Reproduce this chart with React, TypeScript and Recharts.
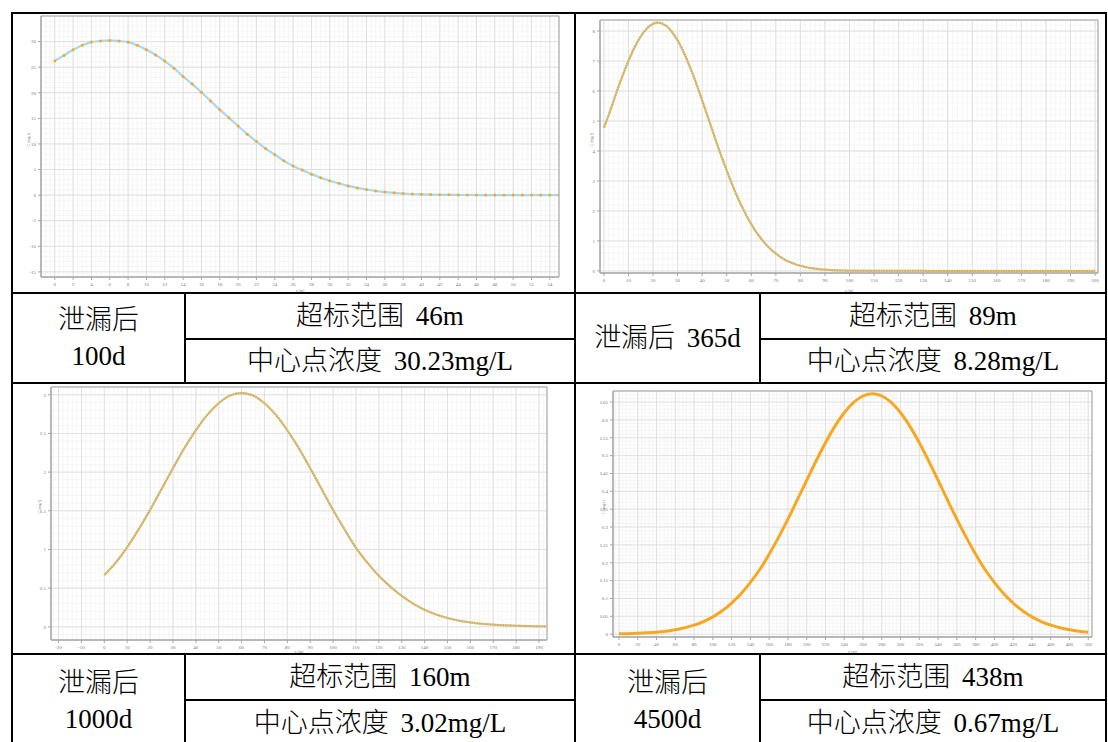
import React from 'react';
import { LineChart, Line, XAxis, YAxis, CartesianGrid, ReferenceArea } from 'recharts';

// 100d
const x100 = [0, 1, 2, 3, 4, 5, 6, 7, 8, 9, 10, 11, 12, 13, 14, 15, 16, 17, 18, 19, 20, 21, 22, 23, 24, 25, 26, 27, 28, 29, 30, 31, 32, 33, 34, 35, 36, 37, 38, 39, 40, 41, 42, 43, 44, 45, 46, 47, 48, 49, 50, 51, 52, 53, 54, 55];
const c100 = [26.2, 27.3, 28.4, 29.3, 29.9, 30.1, 30.23, 30.1, 29.9, 29.3, 28.4, 27.4, 26.2, 24.8, 23.2, 21.7, 20.1, 18.4, 16.7, 15.1, 13.5, 11.9, 10.5, 9.1, 7.9, 6.7, 5.7, 4.9, 4.1, 3.4, 2.8, 2.3, 1.8, 1.4, 1.1, 0.8, 0.6, 0.45, 0.32, 0.22, 0.15, 0.1, 0.07, 0.05, 0.03, 0.02, 0.013, 0.008, 0.005, 0.003, 0.002, 0.001, 0.001, 0, 0, 0];
const xTicks100 = [0, 2, 4, 6, 8, 10, 12, 14, 16, 18, 20, 22, 24, 26, 28, 30, 32, 34, 36, 38, 40, 42, 44, 46, 48, 50, 52, 54];
const yTicks100 = [-15, -10, -5, 0, 5, 10, 15, 20, 25, 30];

// 365d
const x365 = [0, 2, 4, 6, 8, 10, 12, 14, 16, 18, 20, 22, 24, 26, 28, 30, 32, 34, 36, 38, 40, 42, 44, 46, 48, 50, 52, 54, 56, 58, 60, 62, 64, 66, 68, 70, 72, 74, 76, 78, 80, 82, 84, 86, 88, 90, 92, 94, 96, 98, 100, 110, 120, 130, 140, 150, 160, 170, 180, 190, 200];
const c365 = [4.78, 5.21, 5.69, 6.16, 6.6, 7.01, 7.38, 7.69, 7.94, 8.13, 8.24, 8.28, 8.24, 8.13, 7.94, 7.69, 7.38, 7.01, 6.6, 6.16, 5.69, 5.21, 4.73, 4.25, 3.79, 3.35, 2.93, 2.53, 2.18, 1.85, 1.56, 1.3, 1.08, 0.88, 0.72, 0.58, 0.46, 0.36, 0.285, 0.22, 0.17, 0.13, 0.097, 0.073, 0.054, 0.04, 0.03, 0.02, 0.015, 0.01, 0.007, 0.004, 0.002, 0.001, 0, 0, 0, 0, 0, 0, 0];
const xTicks365 = [0, 10, 20, 30, 40, 50, 60, 70, 80, 90, 100, 110, 120, 130, 140, 150, 160, 170, 180, 190, 200];
const yTicks365 = [0, 1, 2, 3, 4, 5, 6, 7, 8];

// 1000d
const x1000 = [0, 5, 10, 15, 20, 25, 30, 35, 40, 45, 50, 55, 60, 65, 70, 75, 80, 85, 90, 95, 100, 105, 110, 115, 120, 125, 130, 135, 140, 145, 150, 155, 160, 165, 170, 175, 180, 185, 190, 193];
const c1000 = [0.67, 0.83, 1.03, 1.26, 1.51, 1.78, 2.05, 2.31, 2.54, 2.74, 2.89, 2.99, 3.02, 2.99, 2.89, 2.74, 2.54, 2.31, 2.05, 1.78, 1.51, 1.26, 1.02, 0.83, 0.66, 0.52, 0.4, 0.3, 0.22, 0.16, 0.115, 0.08, 0.057, 0.04, 0.028, 0.02, 0.014, 0.01, 0.007, 0.006];
const xTicks1000 = [-20, -10, 0, 10, 20, 30, 40, 50, 60, 70, 80, 90, 100, 110, 120, 130, 140, 150, 160, 170, 180, 190];
const yTicks1000 = [0, 0.5, 1, 1.5, 2, 2.5, 3];

// 4500d
const x4500 = [0, 10, 20, 30, 40, 50, 60, 70, 80, 90, 100, 110, 120, 130, 140, 150, 160, 170, 180, 190, 200, 210, 220, 230, 240, 250, 260, 270, 280, 290, 300, 310, 320, 330, 340, 350, 360, 370, 380, 390, 400, 410, 420, 430, 440, 450, 460, 470, 480, 490, 500];
const c4500 = [0.0009, 0.0014, 0.0023, 0.0036, 0.0055, 0.0082, 0.0122, 0.0177, 0.0252, 0.0353, 0.0485, 0.0655, 0.087, 0.113, 0.145, 0.181, 0.224, 0.271, 0.322, 0.376, 0.431, 0.485, 0.536, 0.582, 0.62, 0.649, 0.667, 0.673, 0.667, 0.649, 0.62, 0.582, 0.536, 0.485, 0.431, 0.376, 0.322, 0.271, 0.224, 0.181, 0.145, 0.113, 0.087, 0.0655, 0.0485, 0.0353, 0.0252, 0.0177, 0.0122, 0.0082, 0.0055];
const xTicks4500 = [0, 20, 40, 60, 80, 100, 120, 140, 160, 180, 200, 220, 240, 260, 280, 300, 320, 340, 360, 380, 400, 420, 440, 460, 480, 500];
const yTicks4500 = [0, 0.05, 0.1, 0.15, 0.2, 0.25, 0.3, 0.35, 0.4, 0.45, 0.5, 0.55, 0.6, 0.65];

const ORANGE = '#f7a823';
const BLUE = '#a9d8ec';
const GRID = '#dadada';
const MINOR = '#f0f0f0';
const FRAME = '#a6a6a6';
const TEXT = '#777';

function steps(from: number, to: number, step: number) {
  const out: number[] = [];
  for (let v = Math.ceil(from / step) * step; v <= to + 1e-9; v += step) {
    out.push(Math.round(v * 1e6) / 1e6);
  }
  return out;
}

type PlotProps = {
  xs: number[];
  ys: number[];
  xDomain: [number, number];
  yDomain: [number, number];
  xTicks: number[];
  yTicks: number[];
  xMinor: number;
  yMinor: number;
  box: { left: number; top: number; width: number; height: number };
  margin: { top: number; right: number; bottom: number; left: number };
  yWidth: number;
  xHeight: number;
  variant: 'dots' | 'dense' | 'solid';
};

function Plot({ xs, ys, xDomain, yDomain, xTicks, yTicks, xMinor, yMinor, box, margin, yWidth, xHeight, variant }: PlotProps) {
  const data = xs.map((x, i) => ({ x, c: ys[i] }));
  const tick = { fontSize: 5, fill: TEXT };
  return (
    <div style={{ position: 'absolute', left: box.left, top: box.top, background: '#fff' }}>
      <LineChart width={box.width} height={box.height} data={data} margin={margin}>
        <XAxis xAxisId="m" type="number" dataKey="x" domain={xDomain} allowDataOverflow ticks={steps(xDomain[0], xDomain[1], xMinor)} interval={0} height={0} tickSize={2} tickFormatter={() => ''} axisLine={false} tickLine={{ stroke: FRAME }} />
        <YAxis yAxisId="m" type="number" domain={yDomain} allowDataOverflow ticks={steps(yDomain[0], yDomain[1], yMinor)} interval={0} width={0} tickSize={2} tickFormatter={() => ''} axisLine={false} tickLine={{ stroke: FRAME }} />
        <CartesianGrid xAxisId="m" yAxisId="m" stroke={MINOR} strokeWidth={0.6} />
        <CartesianGrid stroke={GRID} strokeWidth={0.8} />
        <XAxis type="number" dataKey="x" domain={xDomain} allowDataOverflow ticks={xTicks} interval={0} height={xHeight} tickSize={3} tick={tick} axisLine={{ stroke: FRAME }} tickLine={{ stroke: FRAME }}
          label={{ value: 'x (m)', position: 'insideBottom', offset: 0, fontSize: 4, fill: TEXT }} />
        <YAxis type="number" domain={yDomain} allowDataOverflow ticks={yTicks} interval={0} width={yWidth} tickSize={3} tick={tick} axisLine={{ stroke: FRAME }} tickLine={{ stroke: FRAME }}
          label={{ value: 'C (mg/l)', angle: -90, position: 'insideLeft', offset: 2, fontSize: 4, fill: TEXT }} />
        <ReferenceArea x1={xDomain[0]} x2={xDomain[1]} y1={yDomain[0]} y2={yDomain[1]} fill="none" stroke={FRAME} strokeWidth={1} ifOverflow="visible" />
        {variant !== 'solid' && (
          <Line type="monotone" dataKey="c" stroke={BLUE} strokeWidth={2.2} dot={false} isAnimationActive={false} />
        )}
        {variant === 'dots' && (
          <Line type="monotone" dataKey="c" stroke="none" dot={{ r: 1.5, fill: ORANGE, stroke: 'none' }} isAnimationActive={false} />
        )}
        {variant === 'dense' && (
          <Line type="monotone" dataKey="c" stroke={ORANGE} strokeWidth={2} strokeDasharray="1.8 0.8" dot={false} isAnimationActive={false} />
        )}
        {variant === 'solid' && (
          <Line type="monotone" dataKey="c" stroke={ORANGE} strokeWidth={3} dot={false} isAnimationActive={false} />
        )}
      </LineChart>
    </div>
  );
}

function HLine({ x1, x2, y }: { x1: number; x2: number; y: number }) {
  return <div style={{ position: 'absolute', left: x1, top: y, width: x2 - x1, height: 2, background: '#000' }} />;
}

function VLine({ x, y1, y2 }: { x: number; y1: number; y2: number }) {
  return <div style={{ position: 'absolute', left: x, top: y1, width: 2, height: y2 - y1, background: '#000' }} />;
}

function Cell({ x1, x2, y1, y2, lines }: { x1: number; x2: number; y1: number; y2: number; lines: string[] }) {
  return (
    <div style={{ position: 'absolute', left: x1, top: y1, width: x2 - x1, height: y2 - y1, display: 'flex', flexDirection: 'column', alignItems: 'center', justifyContent: 'center', fontSize: 27, fontWeight: 300, lineHeight: '36px', wordSpacing: 5, color: '#000', whiteSpace: 'pre' }}>
      {lines.map((l) => <div key={l}>{l}</div>)}
    </div>
  );
}

export default function App() {
  return (
    <div style={{ position: 'absolute', left: 0, top: 0, width: 1108, height: 742, overflow: 'hidden', background: '#fff', fontFamily: "'Liberation Serif', 'Noto Sans CJK SC', serif" }}>
      {/* table rules */}
      <HLine x1={11} x2={1107} y={12} />
      <HLine x1={11} x2={1107} y={292} />
      <HLine x1={185} x2={575} y={338} />
      <HLine x1={760} x2={1107} y={338} />
      <HLine x1={11} x2={1107} y={382} />
      <HLine x1={11} x2={1107} y={653} />
      <HLine x1={185} x2={575} y={699} />
      <HLine x1={760} x2={1107} y={699} />
      <VLine x={11} y1={12} y2={742} />
      <VLine x={574} y1={12} y2={742} />
      <VLine x={1105} y1={12} y2={742} />
      <VLine x={184} y1={292} y2={383} />
      <VLine x={759} y1={292} y2={383} />
      <VLine x={184} y1={653} y2={742} />
      <VLine x={759} y1={653} y2={742} />

      <Plot xs={x100} ys={c100} xDomain={[-1.5, 55]} yDomain={[-16, 35]} xTicks={xTicks100} yTicks={yTicks100} xMinor={0.5} yMinor={1}
        box={{ left: 25, top: 14, width: 549, height: 278 }} margin={{ top: 2, right: 15, bottom: 0, left: 2 }} yWidth={14} xHeight={15} variant="dots" />
      <Plot xs={x365} ys={c365} xDomain={[-1.6, 201.2]} yDomain={[-0.07, 8.37]} xTicks={xTicks365} yTicks={yTicks365} xMinor={2} yMinor={0.2}
        box={{ left: 588, top: 14, width: 516, height: 278 }} margin={{ top: 6, right: 6, bottom: 0, left: 2 }} yWidth={10} xHeight={19} variant="dense" />
      <Plot xs={x1000} ys={c1000} xDomain={[-23.3, 193.5]} yDomain={[-0.17, 3.1]} xTicks={xTicks1000} yTicks={yTicks1000} xMinor={2} yMinor={0.1}
        box={{ left: 36, top: 384, width: 512, height: 269 }} margin={{ top: 3, right: 1, bottom: 0, left: 2 }} yWidth={13} xHeight={13} variant="dense" />
      <Plot xs={x4500} ys={c4500} xDomain={[-6.4, 504]} yDomain={[-0.008, 0.681]} xTicks={xTicks4500} yTicks={yTicks4500} xMinor={4} yMinor={0.01}
        box={{ left: 600, top: 385, width: 504, height: 268 }} margin={{ top: 6, right: 12, bottom: 0, left: 2 }} yWidth={11} xHeight={16} variant="solid" />

      <Cell x1={13} x2={184} y1={294} y2={382} lines={['泄漏后', '100d']} />
      <Cell x1={186} x2={574} y1={294} y2={338} lines={['超标范围 46m']} />
      <Cell x1={186} x2={574} y1={340} y2={382} lines={['中心点浓度 30.23mg/L']} />
      <Cell x1={576} x2={759} y1={294} y2={382} lines={['泄漏后 365d']} />
      <Cell x1={761} x2={1105} y1={294} y2={338} lines={['超标范围 89m']} />
      <Cell x1={761} x2={1105} y1={340} y2={382} lines={['中心点浓度 8.28mg/L']} />

      <Cell x1={13} x2={184} y1={655} y2={746} lines={['泄漏后', '1000d']} />
      <Cell x1={186} x2={574} y1={655} y2={699} lines={['超标范围 160m']} />
      <Cell x1={186} x2={574} y1={701} y2={744} lines={['中心点浓度 3.02mg/L']} />
      <Cell x1={576} x2={759} y1={655} y2={746} lines={['泄漏后', '4500d']} />
      <Cell x1={761} x2={1105} y1={655} y2={699} lines={['超标范围 438m']} />
      <Cell x1={761} x2={1105} y1={701} y2={744} lines={['中心点浓度 0.67mg/L']} />
    </div>
  );
}
